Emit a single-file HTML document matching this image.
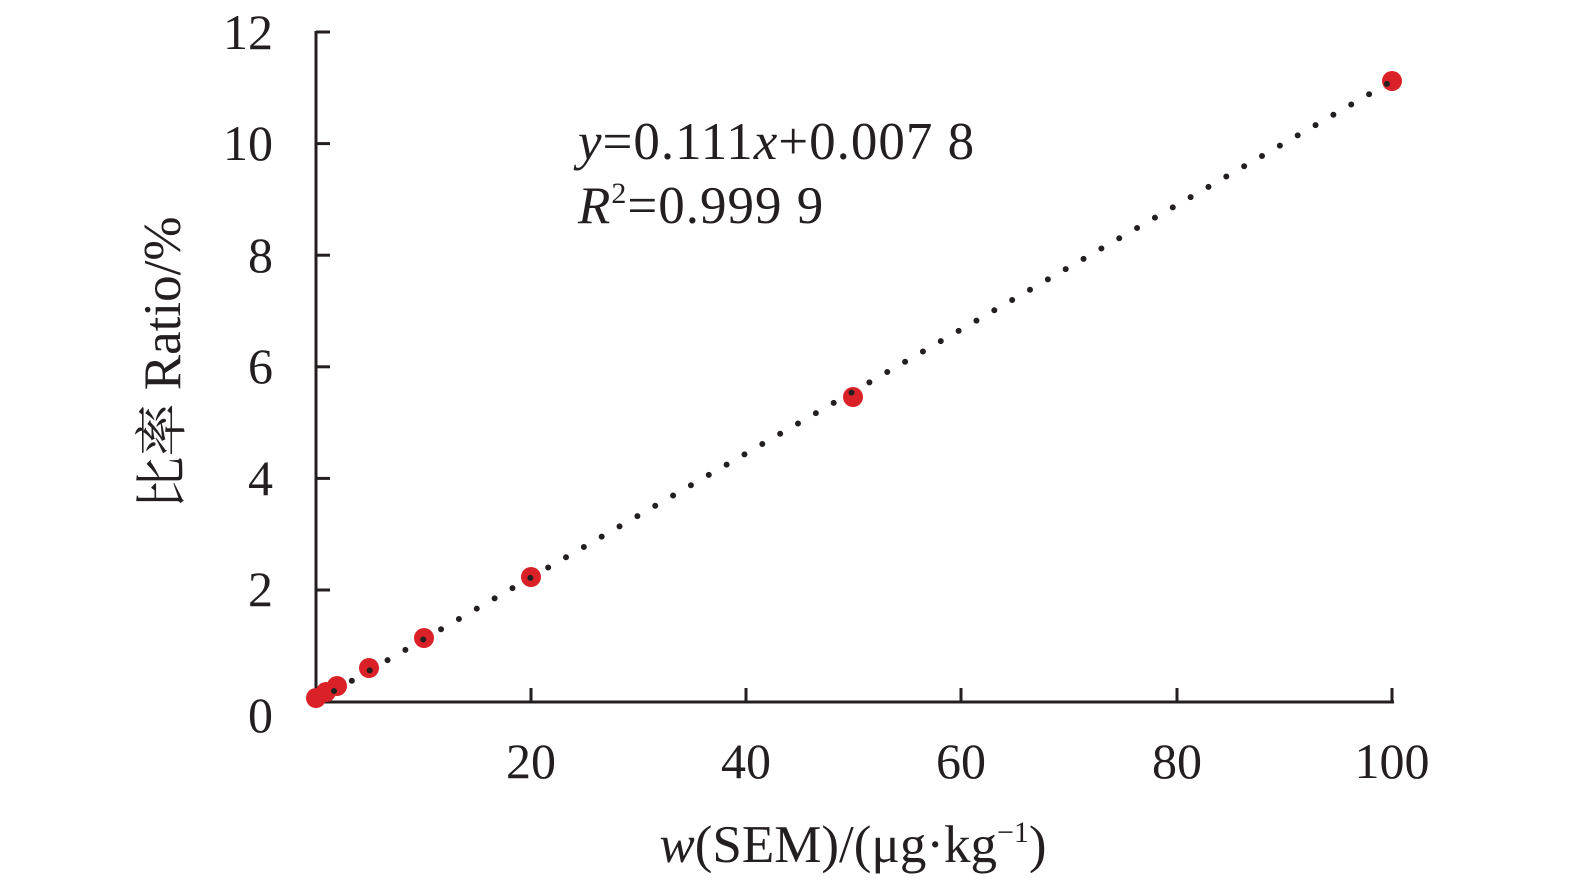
<!DOCTYPE html>
<html><head><meta charset="utf-8"><style>
html,body{margin:0;padding:0;background:#fff;}
svg{display:block;}
text{font-family:"Liberation Serif","Noto Serif CJK SC",serif;fill:#231f20;}
</style></head><body>
<svg width="1575" height="886" viewBox="0 0 1575 886">
<g stroke="#231f20" stroke-width="3" fill="none">
<line x1="316" y1="31" x2="316" y2="703"/>
<line x1="314.5" y1="702" x2="1394" y2="702"/>
<line x1="316" y1="32" x2="330" y2="32"/>
<line x1="316" y1="143.6" x2="330" y2="143.6"/>
<line x1="316" y1="255.2" x2="330" y2="255.2"/>
<line x1="316" y1="366.8" x2="330" y2="366.8"/>
<line x1="316" y1="478.4" x2="330" y2="478.4"/>
<line x1="316" y1="590" x2="330" y2="590"/>
<line x1="531" y1="702" x2="531" y2="688"/>
<line x1="746" y1="702" x2="746" y2="688"/>
<line x1="961" y1="702" x2="961" y2="688"/>
<line x1="1177" y1="702" x2="1177" y2="688"/>
<line x1="1392" y1="702" x2="1392" y2="688"/>
</g>
<g font-size="50" text-anchor="end">
<text x="273" y="49">12</text>
<text x="273" y="160">10</text>
<text x="273" y="272">8</text>
<text x="273" y="383">6</text>
<text x="273" y="495">4</text>
<text x="273" y="606">2</text>
<text x="273" y="732">0</text>
</g>
<g font-size="50" text-anchor="middle">
<text x="531" y="778">20</text>
<text x="746" y="778">40</text>
<text x="961" y="778">60</text>
<text x="1177" y="778">80</text>
<text x="1392" y="778">100</text>
</g>
<g fill="#da2128">
<circle cx="316" cy="698" r="10"/>
<circle cx="326" cy="692" r="10"/>
<circle cx="337" cy="686" r="10"/>
<circle cx="369" cy="668" r="10"/>
<circle cx="424" cy="638" r="10"/>
<circle cx="531" cy="577" r="10"/>
<circle cx="853" cy="397" r="10"/>
<circle cx="1392" cy="81" r="10"/>
</g>
<line x1="334" y1="691" x2="1392" y2="81" stroke="#231f20" stroke-width="6" stroke-linecap="round" stroke-dasharray="0 20.6"/>
<text x="578" y="159" font-size="53" letter-spacing="1"><tspan font-style="italic">y</tspan>=0.111<tspan font-style="italic">x</tspan>+0.007 8</text>
<text x="578" y="223" font-size="53" letter-spacing="1"><tspan font-style="italic">R</tspan><tspan font-size="30" dy="-20">2</tspan><tspan dy="20">=0.999 9</tspan></text>
<text x="853" y="862" font-size="53" text-anchor="middle"><tspan font-style="italic">w</tspan>(SEM)/(μg·kg<tspan font-size="30" dy="-20">−1</tspan><tspan dy="20">)</tspan></text>
<text transform="translate(180,363) rotate(-90)" font-size="53" text-anchor="middle">比率 Ratio/%</text>
</svg>
</body></html>
